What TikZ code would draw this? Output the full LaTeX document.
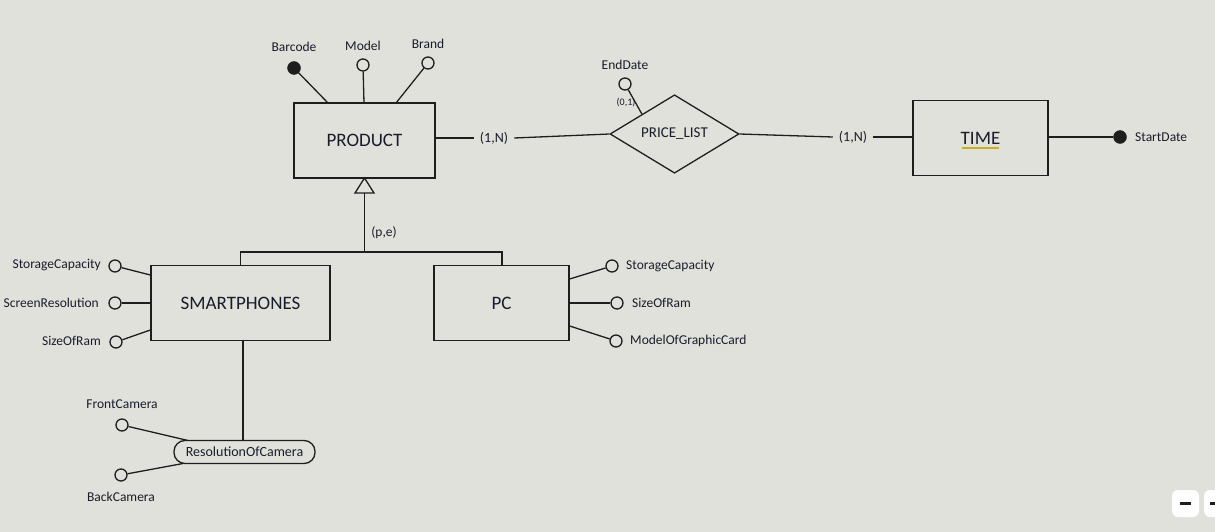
\documentclass[tikz,border=0pt]{standalone}
\usepackage{fontspec}
\setmainfont{Carlito}
\usetikzlibrary{shapes.geometric}
\definecolor{bg}{HTML}{E1E1DC}
\definecolor{ink}{HTML}{1E1E1E}
\definecolor{txt}{HTML}{1A1C2A}
\definecolor{uline}{HTML}{C9B020}
\begin{document}
\begin{tikzpicture}[x=1pt,y=-1pt,
  ent/.style={draw=ink,line width=1.3pt,minimum width=#1,minimum height=75pt,inner sep=0pt,font=\fontsize{19}{22}\selectfont,text=txt},
  rel/.style={draw=ink,line width=1.3pt,diamond,minimum width=129pt,minimum height=72pt,inner sep=0pt,font=\fontsize{15}{17}\selectfont,text=txt},
  attr/.style={circle,draw=ink,line width=1.3pt,fill=bg,minimum size=12pt,inner sep=0pt},
  key/.style={circle,draw=ink,fill=ink,minimum size=13pt,inner sep=0pt},
  lbl/.style={font=\fontsize{13.5}{16}\selectfont,text=txt,inner sep=1pt},
  card/.style={font=\fontsize{14}{16}\selectfont,text=txt,inner sep=6pt},
  con/.style={draw=ink,line width=1.3pt},
  comp/.style={draw=ink,line width=1.3pt,rounded corners=11pt,minimum width=141pt,minimum height=23pt,inner sep=0pt,font=\fontsize{14}{16}\selectfont,text=txt},
  btn/.style={fill=white!96!bg,rounded corners=6pt,minimum width=27pt,minimum height=27pt,inner sep=0pt}
]
\fill[bg] (0,0) rectangle (1215,532);
\useasboundingbox (0,0) rectangle (1215,532);

% PRODUCT
\node[ent=141pt] (product) at (364.5,140.5) {PRODUCT};
\node[key] (barcode) at (294,68) {};
\node[lbl] (barcodeL) at (294,47) {Barcode};
\node[attr] (model) at (363,65) {};
\node[lbl] (modelL) at (363,45.5) {Model};
\node[attr] (brand) at (428,63) {};
\node[lbl] (brandL) at (428,43.5) {Brand};
\coordinate (pb) at (328,103);
\coordinate (pm) at (364,103);
\coordinate (pbr) at (396,103);
\draw[con] (barcode) -- (pb);
\draw[con] (model) -- (pm);
\draw[con] (brand) -- (pbr);

% PRICE_LIST
\node[rel] (price) at (674.5,134) {PRICE\_LIST};
\node[attr] (enddate) at (625,84) {};
\node[lbl] (enddateL) at (625,64.5) {EndDate};
\node[font=\fontsize{10}{11}\selectfont,text=txt,inner sep=0pt] (card01) at (626,103) {(0,1)};
\draw[con] (enddate) -- (price.north west);

\node[card] (c1) at (494,138) {(1,N)};
\draw[con] (product.east |- 0,138) -- (c1.west);
\draw[con] (c1.east) -- (price.west);

% TIME
\node[ent=135pt] (time) at (980.5,138) {TIME};
\draw[uline,line width=1.6pt] (962,148) -- (999,148);
\node[card] (c2) at (853,137) {(1,N)};
\draw[con] (price.east) -- (c2.west);
\draw[con] (c2.east) -- (time.west |- 0,137);
\node[key] (startdate) at (1120,137) {};
\node[lbl,anchor=west] (startdateL) at (1134,137) {StartDate};
\draw[con] (time.east |- 0,137) -- (startdate);

% ISA
\coordinate (tri) at (364.5,178);
\draw[con,fill=bg] (tri) -- (355,193) -- (374,193) -- cycle;
\coordinate (branch) at (364.5,252);
\draw[con] (364.5,193) -- (branch);
\node[lbl] (pe) at (384,233) {(p,e)};

% SMARTPHONES
\node[ent=179pt] (smart) at (240.5,303) {SMARTPHONES};
\node[ent=135pt] (pc) at (501.5,303) {PC};
\draw[con] (smart.north) -- (240.5,252) -- (502,252) -- (pc.north -| 502,0);

\node[attr] (s1) at (115,266) {};
\node[lbl,anchor=east] (s1L) at (102,265) {StorageCapacity};
\node[attr] (s2) at (115,303) {};
\node[lbl,anchor=east] (s2L) at (100,303) {ScreenResolution};
\node[attr] (s3) at (116,342) {};
\node[lbl,anchor=east] (s3L) at (102,341) {SizeOfRam};
\draw[con] (s1) -- (smart.west |- 0,275);
\draw[con] (s2) -- (smart.west |- 0,303);
\draw[con] (s3) -- (smart.west |- 0,330);

\node[attr] (p1) at (612,266) {};
\node[lbl,anchor=west] (p1L) at (625,266) {StorageCapacity};
\node[attr] (p2) at (617,303) {};
\node[lbl,anchor=west] (p2L) at (631,303) {SizeOfRam};
\node[attr] (p3) at (616,341) {};
\node[lbl,anchor=west] (p3L) at (629,341) {ModelOfGraphicCard};
\draw[con] (pc.east |- 0,279) -- (p1);
\draw[con] (pc.east |- 0,303) -- (p2);
\draw[con] (pc.east |- 0,326) -- (p3);

% composite
\node[comp] (res) at (244.5,452) {ResolutionOfCamera};
\draw[con] (smart.south -| 243,0) -- (res.north -| 243,0);
\node[attr] (front) at (122,425) {};
\node[lbl] (frontL) at (122,404) {FrontCamera};
\node[attr] (back) at (121,475) {};
\node[lbl] (backL) at (121,497) {BackCamera};
\draw[con] (front) -- (188,440.5);
\draw[con] (back) -- (183,463.5);

% buttons
\node[btn] (b1) at (1185.5,503.5) {};
\draw[ink,line width=2.5pt] (1180,503.5) -- (1191,503.5);
\fill[white!96!bg,rounded corners=6pt] (1204,490) rectangle (1225,517);
\draw[ink,line width=2.5pt] (1210,503.5) -- (1215,503.5);
\end{tikzpicture}
\end{document}
